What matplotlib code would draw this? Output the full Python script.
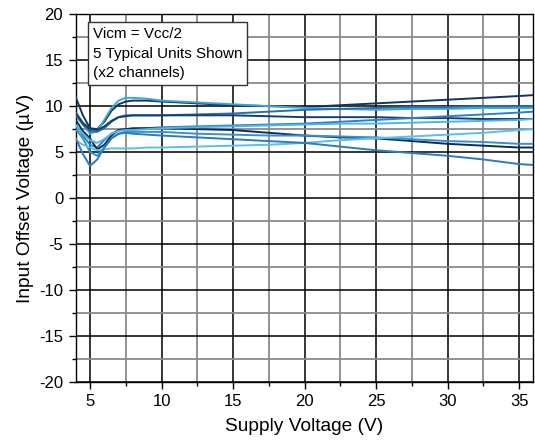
import matplotlib
matplotlib.use("Agg")
import matplotlib.pyplot as plt
from matplotlib.ticker import MultipleLocator

plt.rcParams['font.family'] = ['Liberation Sans', 'DejaVu Sans']
plt.rcParams['axes.unicode_minus'] = False

# supply voltage sample points (V)
vs = [4, 4.5, 5, 5.5, 6, 6.5, 7, 7.5, 8, 9, 10, 12.5, 15, 17.5, 20, 22.5, 25, 27.5, 30, 32.5, 35, 36]

# input offset voltage (uV), one list per channel
ch1 = [11.0, 9.0, 7.6, 7.5, 8.3, 9.5, 10.2, 10.5, 10.6, 10.6, 10.5, 10.3, 10.1, 10.0, 9.9, 10.1, 10.3, 10.5, 10.7, 10.9, 11.1, 11.2]
ch2 = [9.2, 8.0, 7.0, 7.3, 8.5, 9.8, 10.6, 10.9, 10.9, 10.8, 10.6, 10.4, 10.2, 10.0, 9.8, 9.7, 9.6, 9.7, 9.7, 9.8, 9.8, 9.8]
ch3 = [9.0, 8.0, 7.3, 7.2, 7.6, 8.3, 8.8, 9.0, 9.0, 9.0, 9.0, 9.1, 9.2, 9.4, 9.6, 9.7, 9.8, 9.9, 9.9, 10.0, 10.0, 10.0]
ch4 = [9.3, 8.2, 7.5, 7.4, 7.8, 8.4, 8.8, 8.9, 9.0, 9.0, 9.0, 9.0, 9.0, 8.9, 8.8, 8.8, 8.8, 8.7, 8.7, 8.6, 8.6, 8.6]
ch5 = [8.0, 6.8, 5.8, 5.5, 6.3, 7.0, 7.4, 7.5, 7.5, 7.6, 7.7, 7.8, 7.9, 8.0, 8.1, 8.3, 8.5, 8.7, 8.9, 9.1, 9.3, 9.4]
ch6 = [8.5, 7.3, 6.5, 5.3, 5.8, 6.8, 7.4, 7.5, 7.6, 7.6, 7.6, 7.5, 7.4, 7.1, 6.8, 6.6, 6.5, 6.2, 5.9, 5.7, 5.5, 5.5]
ch7 = [7.9, 7.0, 6.3, 6.0, 6.4, 7.0, 7.3, 7.4, 7.4, 7.5, 7.6, 7.7, 7.8, 7.9, 8.0, 8.1, 8.1, 8.2, 8.3, 8.4, 8.5, 8.6]
ch8 = [7.5, 6.5, 5.0, 4.6, 5.5, 6.5, 7.0, 7.2, 7.2, 7.2, 7.2, 7.0, 6.9, 6.8, 6.8, 6.7, 6.6, 6.4, 6.2, 6.1, 5.9, 5.9]
ch9 = [6.3, 5.8, 5.5, 5.2, 5.3, 5.4, 5.4, 5.4, 5.4, 5.5, 5.5, 5.6, 5.7, 5.8, 6.0, 6.3, 6.5, 6.7, 6.9, 7.1, 7.4, 7.5]
ch10 = [6.5, 4.8, 3.5, 4.2, 5.5, 6.5, 7.0, 7.1, 7.0, 6.9, 6.8, 6.6, 6.4, 6.2, 6.0, 5.6, 5.2, 4.9, 4.6, 4.2, 3.7, 3.6]

channels = [ch1, ch2, ch3, ch4, ch5, ch6, ch7, ch8, ch9, ch10]
colors = ['#12355b', '#3da5dd', '#2a6fa8', '#163f6b', '#2a83c4',
          '#0f2d52', '#4fb4e6', '#3a8fcc', '#5cbfea', '#2b7bbd']

fig = plt.figure(figsize=(5.35, 4.43), dpi=100)
ax = fig.add_axes([0.1415, 0.1377, 0.8555, 0.8303])

for y, c in zip(channels, colors):
    ax.plot(vs, y, color=c, lw=1.4, zorder=3)

ax.set_xlim(4, 36)
ax.set_ylim(-20, 20)
ax.xaxis.set_major_locator(MultipleLocator(5))
ax.xaxis.set_minor_locator(MultipleLocator(2.5))
ax.yaxis.set_major_locator(MultipleLocator(5))
ax.yaxis.set_minor_locator(MultipleLocator(2.5))
ax.grid(which='major', color='black', lw=1.1, zorder=1)
ax.grid(which='minor', color='#8a8a8a', lw=1.3, zorder=1)
ax.tick_params(which='major', direction='out', length=5, width=1, labelsize=12, colors='black', pad=4)
ax.tick_params(which='minor', direction='out', length=3, width=1)
for s in ax.spines.values():
    s.set_color('black')
    s.set_linewidth(1.0)

ax.set_xlabel('Supply Voltage (V)', fontsize=13.8, labelpad=6)
ax.set_ylabel('Input Offset Voltage (\u00b5V)', fontsize=13.8, labelpad=4)

ax.text(5.2, 18.6, 'Vicm = Vcc/2\n5 Typical Units Shown\n(x2 channels)', fontsize=11,
        va='top', ha='left', linespacing=1.5, zorder=5,
        bbox=dict(boxstyle='square,pad=0.3', fc='white', ec='#333333', lw=1))

fig.savefig('out.png', dpi=100)
